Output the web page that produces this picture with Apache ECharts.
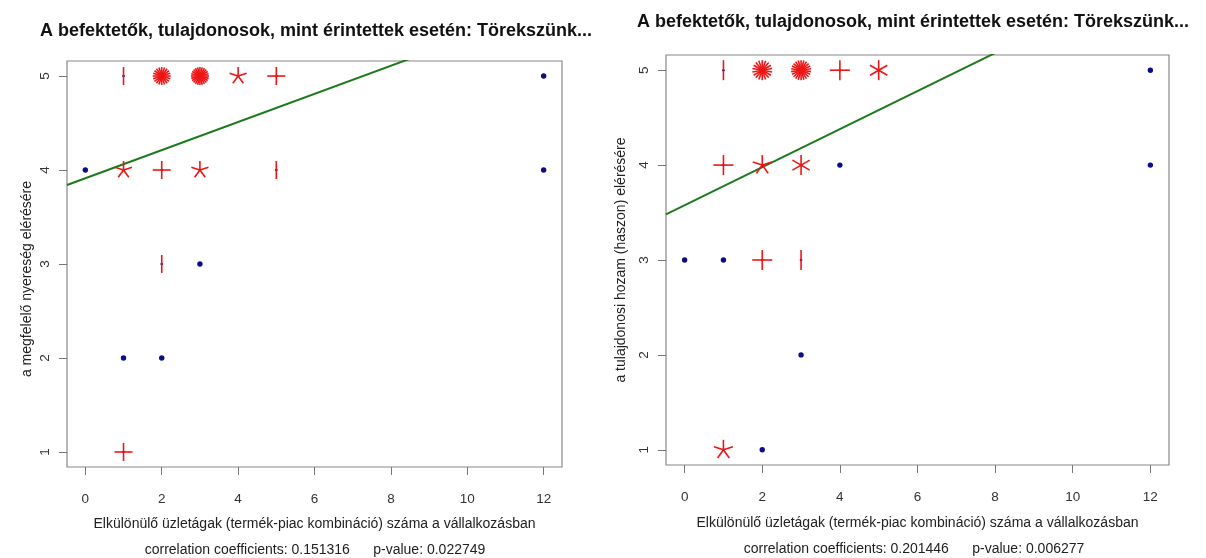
<!DOCTYPE html>
<html>
<head>
<meta charset="utf-8">
<script src="https://cdn.jsdelivr.net/npm/echarts@6/dist/echarts.min.js"></script>
<style>
html,body{margin:0;padding:0;background:#fff;}
#chart{width:1206px;height:558px;}
</style>
</head>
<body>
<div id="chart"></div>
<script>
// ---- data ----
const titleText = 'A befektetők, tulajdonosok, mint érintettek esetén: Törekszünk...';
const xAxisName = 'Elkülönülő üzletágak (termék-piac kombináció) száma a vállalkozásban';
const leftYName = 'a megfelelő nyereség elérésére';
const rightYName = 'a tulajdonosi hozam (haszon) elérésére';
const leftStats = 'correlation coefficients: 0.151316      p-value: 0.022749';
const rightStats = 'correlation coefficients: 0.201446      p-value: 0.006277';

const xTicks = [0, 2, 4, 6, 8, 10, 12];
const yTicks = [1, 2, 3, 4, 5];

// left panel: sunflower points (x, y, number of observations)
const leftX     = [1, 2, 3, 4, 5, 12,  0, 1, 2, 3, 5, 12,  2, 3,  1, 2,  1];
const leftY     = [5, 5, 5, 5, 5, 5,   4, 4, 4, 4, 4, 4,   3, 3,  2, 2,  1];
const leftCount = [2, 20, 24, 5, 4, 1, 1, 5, 4, 5, 2, 1,   2, 1,  1, 1,  4];
// left panel regression line end points
const leftFitX = [-0.48, 12.48];
const leftFitY = [3.84, 5.78];

// right panel
const rightX     = [1, 2, 3, 4, 5, 12,  1, 2, 3, 4, 12,  0, 1, 2, 3,  3,  1, 2];
const rightY     = [5, 5, 5, 5, 5, 5,   4, 4, 4, 4, 4,   3, 3, 3, 3,  2,  1, 1];
const rightCount = [2, 18, 22, 4, 6, 1, 4, 5, 6, 1, 1,   1, 1, 4, 2,  1,  5, 1];
const rightFitX = [-0.48, 12.48];
const rightFitY = [3.48, 6.08];

// ---- build chart ----
const FONT = '"Liberation Sans", Arial, sans-serif';
function rows(xs, ys, ns) { return xs.map((x, i) => [x, ys[i], ns[i]]); }
function pairs(xs, ys) { return xs.map((x, i) => [x, ys[i]]); }

function makeRender(R) {
  return function (params, api) {
    const n = api.value(2);
    const p = api.coord([api.value(0), api.value(1)]);
    if (n <= 1) {
      return { type: 'circle', shape: { cx: p[0], cy: p[1], r: 2.7 }, style: { fill: '#0c0c86' } };
    }
    const children = [{ type: 'circle', shape: { cx: p[0], cy: p[1], r: 1.3 }, style: { fill: '#0c0c86' } }];
    for (let k = 1; k <= n; k++) {
      const d = 2 * Math.PI * k / n;
      children.push({
        type: 'line',
        shape: { x1: p[0], y1: p[1], x2: p[0] + R * Math.sin(d), y2: p[1] - R * Math.cos(d) },
        style: { stroke: '#ee1515', lineWidth: 1.6 }
      });
    }
    return { type: 'group', children: children };
  };
}

function xAxisCfg(gridIndex, gap) {
  return {
    gridIndex: gridIndex, type: 'value', min: -0.48, max: 12.48,
    name: xAxisName, nameLocation: 'middle', nameGap: gap,
    nameTextStyle: { fontFamily: FONT, fontSize: 14, color: '#222' },
    axisLine: { show: false, onZero: false },
    axisTick: { show: true, customValues: xTicks, length: 8, inside: false, lineStyle: { color: '#777' } },
    axisLabel: { customValues: xTicks, margin: 25, fontFamily: FONT, fontSize: 13.5, color: '#333' },
    splitLine: { show: false }
  };
}
function yAxisCfg(gridIndex, name, gap, pad) {
  return {
    gridIndex: gridIndex, type: 'value', min: 0.84, max: 5.16,
    name: name, nameLocation: 'middle', nameGap: gap, nameRotate: 90,
    nameTextStyle: { fontFamily: FONT, fontSize: 14, color: '#222', padding: pad },
    axisLine: { show: false, onZero: false },
    axisTick: { show: true, customValues: yTicks, length: 8, inside: false, lineStyle: { color: '#777' } },
    axisLabel: { customValues: yTicks, rotate: 90, margin: 15, fontFamily: FONT, fontSize: 13.5, color: '#333' },
    splitLine: { show: false }
  };
}

const option = {
  backgroundColor: '#fff',
  animation: false,
  title: [
    { text: titleText, left: 35, top: 17, textStyle: { fontFamily: FONT, fontSize: 18, fontWeight: 'bold', color: '#111' } },
    { text: titleText, left: 632, top: 8, textStyle: { fontFamily: FONT, fontSize: 18, fontWeight: 'bold', color: '#111' } }
  ],
  grid: [
    { left: 67, top: 61, width: 495, height: 406, show: true, borderColor: '#888', borderWidth: 1.2, backgroundColor: '#fff' },
    { left: 666, top: 55, width: 503, height: 410, show: true, borderColor: '#888', borderWidth: 1.2, backgroundColor: '#fff' }
  ],
  xAxis: [xAxisCfg(0, 50), xAxisCfg(1, 51)],
  yAxis: [yAxisCfg(0, leftYName, 33, [0, 30, 0, 0]), yAxisCfg(1, rightYName, 38, 0)],
  graphic: [
    { type: 'text', x: 315, y: 550, style: { text: leftStats, fontFamily: FONT, fontSize: 14, fill: '#222', align: 'center', verticalAlign: 'middle' } },
    { type: 'text', x: 914, y: 549, style: { text: rightStats, fontFamily: FONT, fontSize: 14, fill: '#222', align: 'center', verticalAlign: 'middle' } }
  ],
  series: [
    { type: 'line', xAxisIndex: 0, yAxisIndex: 0, data: pairs(leftFitX, leftFitY), showSymbol: false, clip: true,
      lineStyle: { color: '#1e7a1e', width: 2 }, z: 2 },
    { type: 'custom', xAxisIndex: 0, yAxisIndex: 0, data: rows(leftX, leftY, leftCount), renderItem: makeRender(9), encode: { x: 0, y: 1 }, z: 3 },
    { type: 'line', xAxisIndex: 1, yAxisIndex: 1, data: pairs(rightFitX, rightFitY), showSymbol: false, clip: true,
      lineStyle: { color: '#1e7a1e', width: 2 }, z: 2 },
    { type: 'custom', xAxisIndex: 1, yAxisIndex: 1, data: rows(rightX, rightY, rightCount), renderItem: makeRender(10), encode: { x: 0, y: 1 }, z: 3 }
  ]
};

const chart = echarts.init(document.getElementById('chart'), null, { renderer: 'canvas' });
chart.setOption(option);
</script>
</body>
</html>
